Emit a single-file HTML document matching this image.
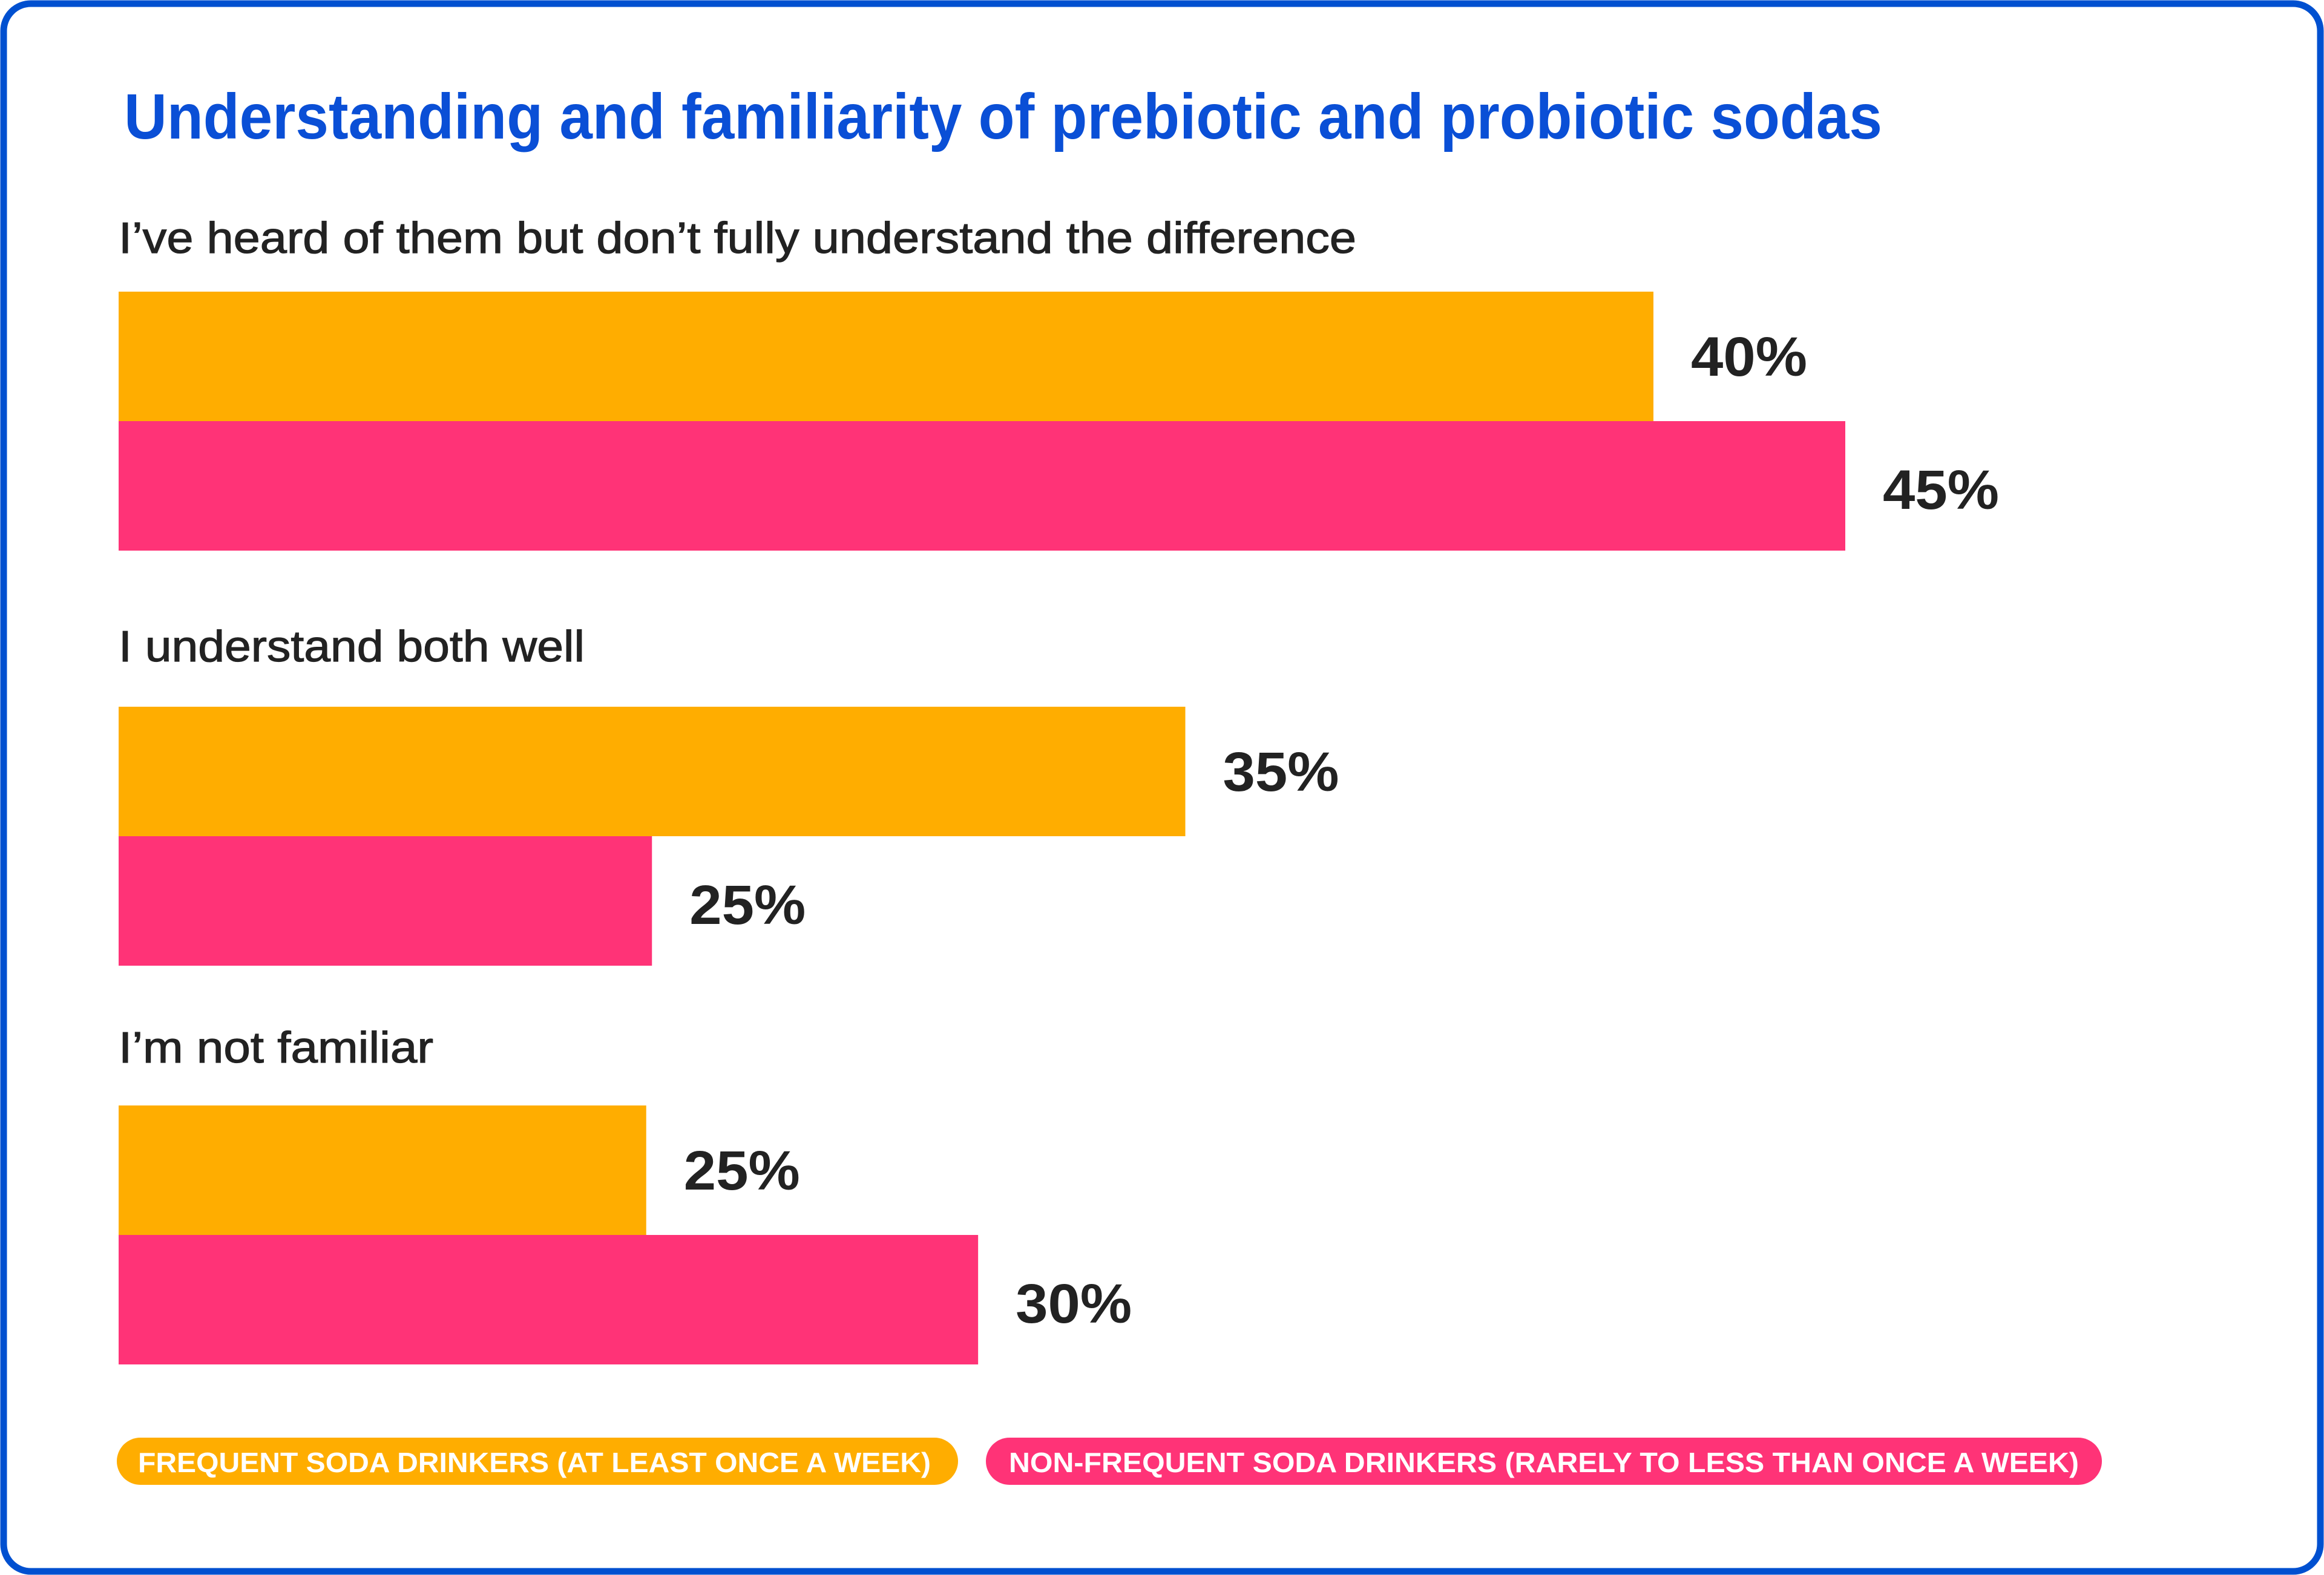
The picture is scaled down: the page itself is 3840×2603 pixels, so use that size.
<!DOCTYPE html>
<html><head><meta charset="utf-8"><style>
html,body{margin:0;padding:0;background:#fff;}
svg{display:block;font-family:"Liberation Sans",sans-serif;}
</style></head><body>
<svg id="chart" width="3840" height="2603" viewBox="0 0 3840 2603">
<rect x="6" y="6" width="3828" height="2591" rx="45" fill="#fff" stroke="#0050D0" stroke-width="11"/>
<text x="205" y="229" font-size="106" font-weight="bold" fill="#0A4FD6" textLength="2905" lengthAdjust="spacingAndGlyphs">Understanding and familiarity of prebiotic and probiotic sodas</text>
<g id="bars"></g>
<g>
<rect x="193" y="2376" width="1390" height="78" rx="39" fill="#FFAD00"/>
<text x="228" y="2433" font-size="46" font-weight="bold" fill="#fff" textLength="1310" lengthAdjust="spacingAndGlyphs">FREQUENT SODA DRINKERS (AT LEAST ONCE A WEEK)</text>
<rect x="1629" y="2376" width="1844" height="78" rx="39" fill="#FF3377"/>
<text x="1667" y="2433" font-size="46" font-weight="bold" fill="#fff" textLength="1768" lengthAdjust="spacingAndGlyphs">NON-FREQUENT SODA DRINKERS (RARELY TO LESS THAN ONCE A WEEK)</text>
</g>
</svg>
<script>
const categories = ["I\u2019ve heard of them but don\u2019t fully understand the difference", "I understand both well", "I\u2019m not familiar"];
const frequentValues = [40, 27.8, 13.75];
const nonFrequentValues = [45, 13.9, 22.4];
const frequentLabels = ["40%", "35%", "25%"];
const nonFrequentLabels = ["45%", "25%", "30%"];

const NS = "http://www.w3.org/2000/svg";
const g = document.getElementById("bars");
const x0 = 196, pxPerUnit = 63.4;
function xScale(v){ return x0 + v * pxPerUnit; }
const groupTop = [482, 1168, 1827];
const labelY = [418, 1093, 1756];
const labelLen = [2045, 770, 520];
const barH = 214;
function mk(tag, attrs){ const e = document.createElementNS(NS, tag); for (const k in attrs) e.setAttribute(k, attrs[k]); return e; }
categories.forEach((c, i) => {
  const t = mk("text", {x: x0, y: labelY[i], "font-size": 72, fill: "#222", stroke: "#222", "stroke-width": 1.2, textLength: labelLen[i], lengthAdjust: "spacingAndGlyphs"});
  
  
  t.textContent = c; g.appendChild(t);
  const series = [[frequentValues[i], frequentLabels[i], "#FFAD00", "bar-frequent"], [nonFrequentValues[i], nonFrequentLabels[i], "#FF3377", "bar-non-frequent"]];
  series.forEach((s, j) => {
    const y = groupTop[i] + j * barH;
    const r = mk("rect", {x: x0, y: y, width: xScale(s[0]) - x0, height: barH, fill: s[2]});
    
    
    g.appendChild(r);
    const vt = mk("text", {x: xScale(s[0]) + 62, y: y + barH / 2 + 32 + (j ? 6 : 0), "font-size": 92, "font-weight": "bold", fill: "#222", textLength: 192, lengthAdjust: "spacingAndGlyphs"});
    
    
    vt.textContent = s[1]; g.appendChild(vt);
  });
});
</script>
</body></html>
